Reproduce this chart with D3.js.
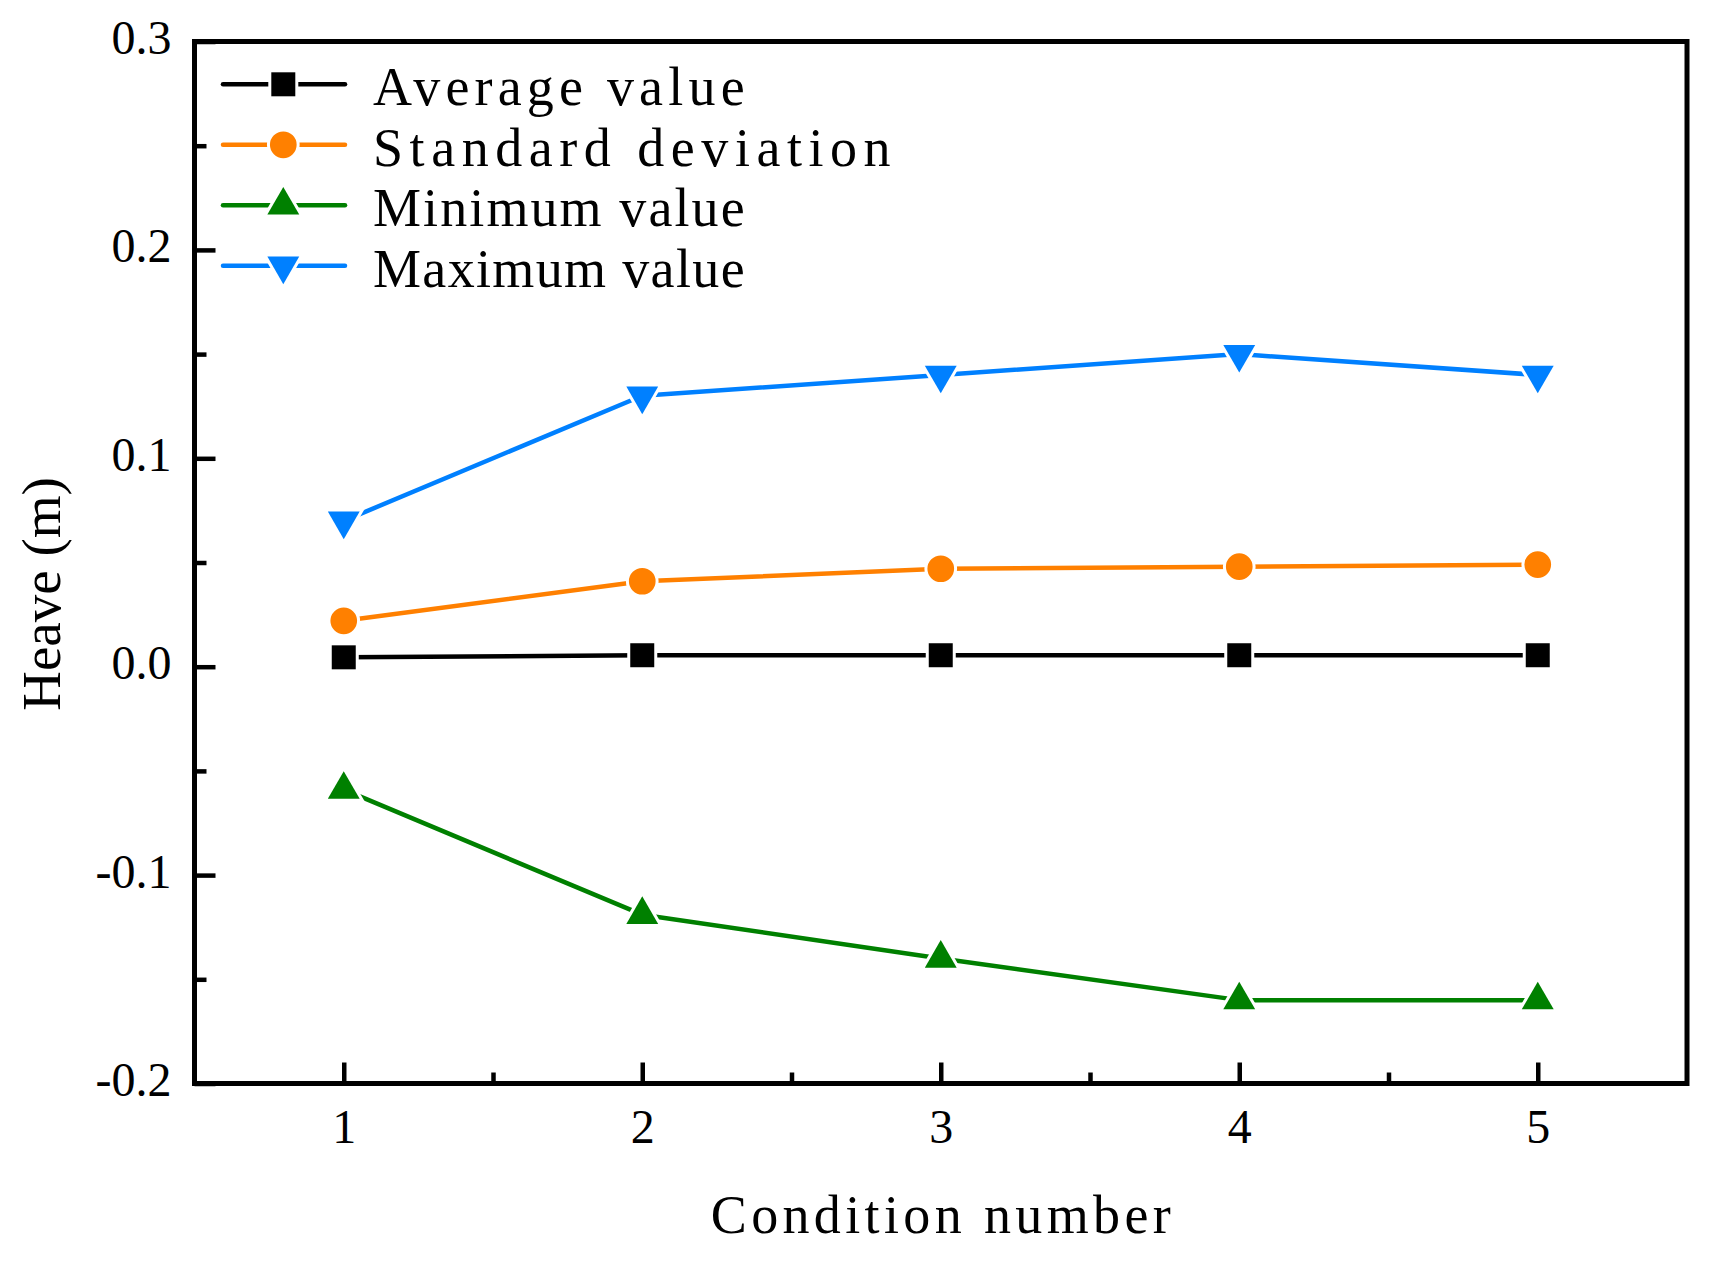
<!DOCTYPE html>
<html>
<head>
<meta charset="utf-8">
<script src="https://cdn.jsdelivr.net/npm/d3@7"></script>
<style>
  body { margin: 0; background: #fff; }
  svg { display: block; }
</style>
</head>
<body>
<svg id="chart" width="1709" height="1265"></svg>
<script>
// data
const conditions = [1, 2, 3, 4, 5]
const averageValue = [0.0045, 0.0055, 0.0055, 0.0055, 0.0055]
const standardDeviation = [0.022, 0.041, 0.047, 0.048, 0.049]
const minimumValue = [-0.059, -0.119, -0.14, -0.16, -0.16]
const maximumValue = [0.070, 0.13, 0.14, 0.15, 0.14]

const seriesNames = ["Average value", "Standard deviation", "Minimum value", "Maximum value"]
const yTicks = [-0.2, -0.1, 0.0, 0.1, 0.2, 0.3]
const yMinorTicks = [-0.15, -0.05, 0.05, 0.15, 0.25]
const xMinorTicks = [1.5, 2.5, 3.5, 4.5]

const series = [
    { name: seriesNames[0], values: averageValue, color: "#000000", symbol: d3.symbolSquare, size: 576 },
    { name: seriesNames[1], values: standardDeviation, color: "#FF8000", symbol: d3.symbolCircle, size: 560 },
    { name: seriesNames[2], values: minimumValue, color: "#008000", symbol: d3.symbolTriangle, size: 440 },
    { name: seriesNames[3], values: maximumValue, color: "#0080FF", symbol: d3.symbolTriangle, size: 440, flip: true }
]

const margin = { left: 194.5, right: 1687, top: 41.5, bottom: 1083.5 }
const svg = d3.select("#chart")

const x = d3.scaleLinear().domain([0.5, 5.5]).range([margin.left, margin.right])
const y = d3.scaleLinear().domain([-0.2, 0.3]).range([margin.bottom, margin.top])

const serif = "'Liberation Serif', 'Times New Roman', serif"

// axes, ticks pointing inward
var yAxis = svg.append("g").attr("transform", "translate(" + margin.left + ",0)")
    .call(d3.axisLeft(y).tickValues(yTicks).tickSize(-21).tickPadding(23)
        .tickFormat(d => d.toFixed(1)))
yAxis.append("g").call(d3.axisLeft(y).tickValues(yMinorTicks).tickSize(-12).tickFormat(""))

var xAxis = svg.append("g").attr("transform", "translate(0," + margin.bottom + ")")
    .call(d3.axisBottom(x).tickValues(conditions).tickSize(-21).tickPadding(25)
        .tickFormat(d3.format("d")))
xAxis.append("g").call(d3.axisBottom(x).tickValues(xMinorTicks).tickSize(-11).tickFormat(""))

svg.selectAll(".domain").remove()
svg.selectAll(".tick line").attr("stroke", "#000").attr("stroke-width", 4.5)
svg.selectAll(".tick text")
    .attr("fill", "#000")
    .style("font-family", serif)
    .style("font-size", "48px")
yAxis.selectAll(".tick text").attr("dy", "0.25em")

// frame
svg.append("rect")
    .attr("x", margin.left).attr("y", margin.top)
    .attr("width", margin.right - margin.left).attr("height", margin.bottom - margin.top)
    .attr("fill", "none").attr("stroke", "#000").attr("stroke-width", 5)

// lines and markers
var line = d3.line()
    .x((d, i) => x(conditions[i]))
    .y(d => y(d))

function markerPath(s) {
    return d3.symbol().type(s.symbol).size(s.size)()
}

series.forEach(s => {
    var g = svg.append("g")
    g.append("path")
        .datum(s.values)
        .attr("d", line)
        .attr("fill", "none")
        .attr("stroke", s.color)
        .attr("stroke-width", 4.5)
        .attr("stroke-linejoin", "round")

    g.selectAll(".marker").data(s.values).enter().append("path")
        .attr("class", "marker")
        .attr("d", markerPath(s))
        .attr("transform", (d, i) => "translate(" + x(conditions[i]) + "," + y(d) + ")" + (s.flip ? " rotate(180)" : ""))
        .attr("fill", s.color)
        .attr("stroke", "#fff")
        .attr("stroke-width", 6)
        .attr("paint-order", "stroke")
})

// legend (text is monospaced-looking in the original, so spread it with textLength)
var legend = svg.append("g")
series.forEach((s, i) => {
    var rowY = 84.3 + i * 60.5
    var row = legend.append("g").attr("transform", "translate(0," + rowY + ")")
    row.append("line")
        .attr("x1", 223).attr("x2", 345)
        .attr("stroke", s.color).attr("stroke-width", 4.5).attr("stroke-linecap", "round")
    row.append("path")
        .attr("d", markerPath(s))
        .attr("transform", "translate(283.3,0)" + (s.flip ? " rotate(180)" : ""))
        .attr("fill", s.color)
        .attr("stroke", "#fff")
        .attr("stroke-width", 6)
        .attr("paint-order", "stroke")
    row.append("text")
        .attr("x", 373).attr("y", 21)
        .attr("textLength", s.name.length * 29.2 - 8)
        .attr("lengthAdjust", "spacing")
        .style("font-family", serif)
        .style("font-size", "54px")
        .attr("fill", "#000")
        .text(s.name)
})

// axis titles
var xTitle = "Condition number"
svg.append("text")
    .attr("x", (margin.left + margin.right) / 2).attr("y", 1233)
    .attr("text-anchor", "middle")
    .attr("textLength", xTitle.length * 29.25 - 8)
    .attr("lengthAdjust", "spacing")
    .style("font-family", serif)
    .style("font-size", "54px")
    .attr("fill", "#000")
    .text(xTitle)

svg.append("text")
    .attr("transform", "translate(60,594) rotate(-90)")
    .attr("text-anchor", "middle")
    .style("font-family", serif)
    .style("font-size", "55px")
    .attr("fill", "#000")
    .text("Heave (m)")
</script>
</body>
</html>
